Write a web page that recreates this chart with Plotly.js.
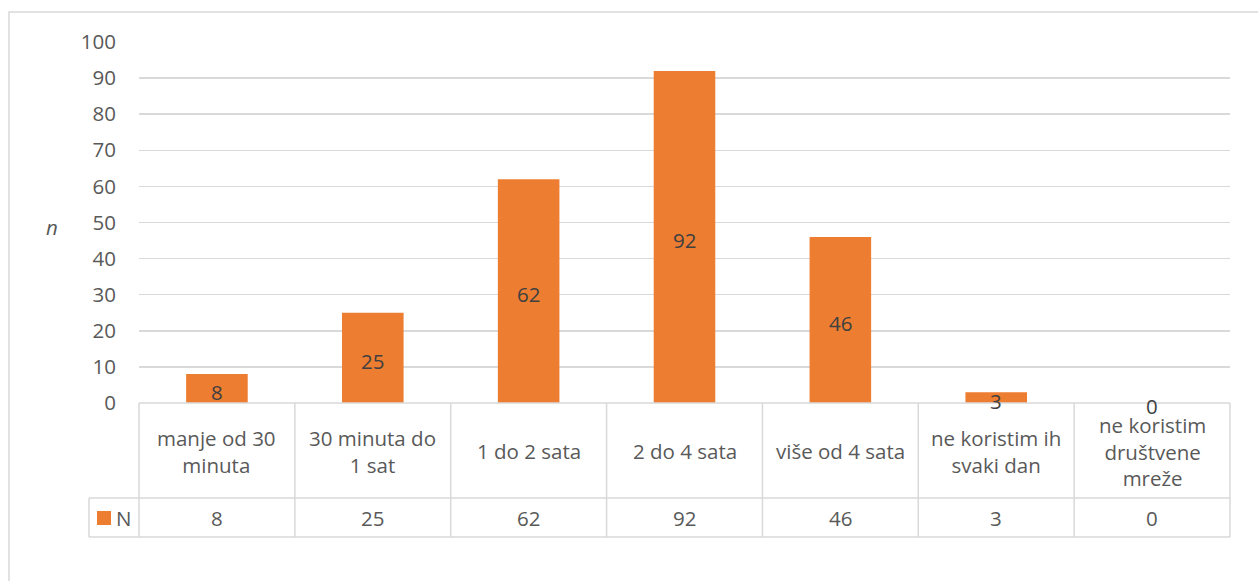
<!DOCTYPE html>
<html>
<head>
<meta charset="utf-8">
<script src="https://cdn.plot.ly/plotly-3.0.1.min.js"></script>
<style>
html,body{margin:0;padding:0;background:#fff;}
#chart{width:1258px;height:581px;}
</style>
</head>
<body>
<div id="chart"></div>
<script>
var categories = ["manje od 30 minuta", "30 minuta do 1 sat", "1 do 2 sata", "2 do 4 sata", "više od 4 sata", "ne koristim ih svaki dan", "ne koristim društvene mreže"];
var tableLabels = ["manje od 30<br>minuta", "30 minuta do<br>1 sat", "1 do 2 sata", "2 do 4 sata", "više od 4 sata", "ne koristim ih<br>svaki dan", "ne koristim<br>društvene<br>mreže"];
var seriesName = "N";
var values = [8, 25, 62, 92, 46, 3, 0];
var yTicks = [0, 10, 20, 30, 40, 50, 60, 70, 80, 90, 100];
var yLabel = "n";

var FONT = "Open Sans, Noto Sans, sans-serif";
var FS = 20.5;
var TXT = "#595959";
var LINE = "#D9D9D9";
var ORANGE = "#ED7D31";

var W = 1258, H = 581;
var L = 139, R = 1230, T = 42, B = 403;
var pw = R - L, ph = B - T;
function px(x){ return (x - L) / pw; }
function py(y){ return (B - y) / ph; }

var n = categories.length;

var bars = {
  type: "bar",
  x: categories,
  y: values,
  name: seriesName,
  marker: {color: ORANGE},
  width: 0.395,
  hoverinfo: "x+y"
};

var shapes = [];
var ln = {color: LINE, width: 1.5};
// outer chart border
shapes.push({type: "rect", xref: "paper", yref: "paper", x0: px(9), x1: px(1275), y0: py(600), y1: py(12), line: {color: LINE, width: 1.5}, layer: "below"});
// data table horizontal lines
shapes.push({type: "line", xref: "paper", yref: "paper", x0: 0, x1: 1, y0: 0, y1: 0, line: ln});
shapes.push({type: "line", xref: "paper", yref: "paper", x0: px(89), x1: 1, y0: py(498), y1: py(498), line: ln});
shapes.push({type: "line", xref: "paper", yref: "paper", x0: px(89), x1: 1, y0: py(537), y1: py(537), line: ln});
// vertical lines
for (var i = 0; i <= n; i++) {
  shapes.push({type: "line", xref: "paper", yref: "paper", x0: i / n, x1: i / n, y0: 0, y1: py(537), line: ln});
}
shapes.push({type: "line", xref: "paper", yref: "paper", x0: px(89), x1: px(89), y0: py(498), y1: py(537), line: ln});
// legend key swatch
shapes.push({type: "rect", xref: "paper", yref: "paper", x0: px(97), x1: px(111), y0: py(525), y1: py(511), fillcolor: ORANGE, line: {width: 0}});

var annotations = [];
for (var j = 0; j < n; j++) {
  // bar data labels (centered on bar, via axis scales)
  annotations.push({xref: "x", yref: "y", x: categories[j], y: values[j] / 2, yshift: -3, text: String(values[j]), showarrow: false, font: {family: FONT, size: FS, color: "#404040"}, xanchor: "center", yanchor: "middle"});
  // data table cells
  annotations.push({xref: "paper", yref: "paper", x: (j + 0.5) / n, y: py(451), text: tableLabels[j], showarrow: false, font: {family: FONT, size: FS, color: TXT}, align: "center", xanchor: "center", yanchor: "middle"});
  annotations.push({xref: "paper", yref: "paper", x: (j + 0.5) / n, y: py(518), text: String(values[j]), showarrow: false, font: {family: FONT, size: FS, color: TXT}, xanchor: "center", yanchor: "middle"});
}
annotations.push({xref: "paper", yref: "paper", x: px(114), y: py(518), text: seriesName, showarrow: false, font: {family: FONT, size: FS, color: TXT}, xanchor: "left", yanchor: "middle"});
annotations.push({xref: "paper", yref: "paper", x: px(52), y: py(227), text: "<i>" + yLabel + "</i>", showarrow: false, font: {family: FONT, size: FS, color: TXT}, xanchor: "center", yanchor: "middle"});

var layout = {
  width: W, height: H,
  margin: {l: L, r: W - R, t: T, b: H - B, pad: 0},
  paper_bgcolor: "#fff",
  plot_bgcolor: "#fff",
  showlegend: false,
  bargap: 0.6,
  xaxis: {
    type: "category",
    range: [-0.5, n - 0.5],
    showticklabels: false,
    showgrid: false,
    zeroline: false,
    showline: false,
    ticks: "",
    fixedrange: true
  },
  yaxis: {
    range: [0, 100],
    tickvals: yTicks,
    ticktext: yTicks.map(String),
    showgrid: true,
    gridcolor: LINE,
    gridwidth: 1.5,
    zeroline: false,
    showline: false,
    ticks: "",
    ticklabelstandoff: 22,
    tickfont: {family: FONT, size: FS, color: TXT},
    fixedrange: true
  },
  shapes: shapes,
  annotations: annotations
};

Plotly.newPlot("chart", [bars], layout, {displayModeBar: false, staticPlot: true});
</script>
</body>
</html>
